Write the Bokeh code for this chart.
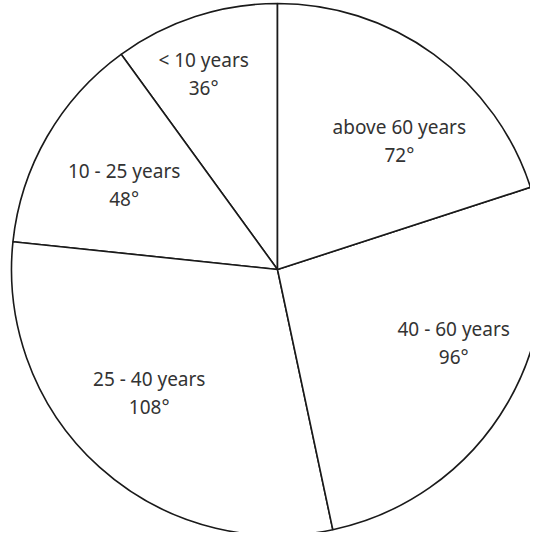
import numpy as np
from bokeh.plotting import figure
from bokeh.models import Range1d, ColumnDataSource
from bokeh.core.properties import value
from bokeh.embed import file_html
from bokeh.resources import INLINE

# ---- data ----
categories = ["< 10 years", "10 - 25 years", "25 - 40 years", "40 - 60 years", "above 60 years"]
angles_deg = [36, 48, 108, 96, 72]
angle_labels = ["36\u00b0", "48\u00b0", "108\u00b0", "96\u00b0", "72\u00b0"]

# ---- layout / style (pixel-like units) ----
W, H = 530, 532
CX, CY = 277, 263          # pie centre
R = 266                    # pie radius
START = 90                 # first slice starts straight up, counter-clockwise
label_r = [209, 175, 178, 191, 177]
label_nudge = [2.7, 1.2, -4.1, 7.3, -7.5]   # degrees added to slice mid-angle

ends = START + np.cumsum(angles_deg)
starts = ends - np.array(angles_deg)
mids = (starts + ends) / 2 + np.array(label_nudge)
lx = CX + np.array(label_r) * np.cos(np.radians(mids))
ly = CY + np.array(label_r) * np.sin(np.radians(mids))

src = ColumnDataSource(dict(cat=categories, lab=angle_labels,
                            start=np.radians(starts), end=np.radians(ends),
                            lx=lx, ly=ly))

p = figure(width=W, height=H, output_backend="svg", toolbar_location=None,
           x_range=Range1d(0, W), y_range=Range1d(0, H), min_border=0,
           outline_line_color=None)
p.axis.visible = False
p.grid.visible = False
p.background_fill_color = "white"
p.border_fill_color = "white"

p.wedge(x=CX, y=CY, radius=R, start_angle="start", end_angle="end",
        source=src, fill_color="white", line_color="#1a1a1a", line_width=1.6)

p.text(x="lx", y="ly", text="cat", source=src, y_offset=-14,
       text_align="center", text_baseline="middle",
       text_font=value("Noto Sans"), text_font_size="19px", text_color="#333333")
p.text(x="lx", y="ly", text="lab", source=src, y_offset=14,
       text_align="center", text_baseline="middle",
       text_font=value("Noto Sans"), text_font_size="19px", text_color="#333333")

open("out.html", "w").write(file_html(p, INLINE))
